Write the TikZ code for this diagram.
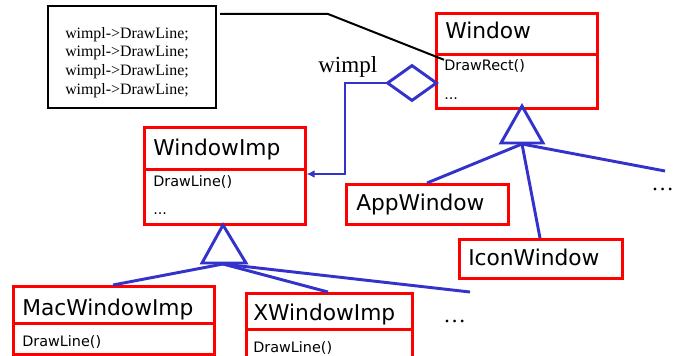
\documentclass[tikz,border=0pt]{standalone}
\usepackage{fontspec}
\setmainfont{Liberation Serif}
\newfontfamily\clsfont{DejaVu Sans}
\usetikzlibrary{shapes.geometric,arrows.meta}
\definecolor{umlred}{RGB}{255,0,0}
\definecolor{umlblue}{RGB}{51,51,204}
\tikzset{
  redbox/.style={draw=umlred, line width=2pt, rectangle, inner sep=0pt, anchor=north west},
  notebox/.style={draw=black, line width=1.7pt, rectangle, inner sep=0pt, anchor=north west},
  title/.style={anchor=base west, inner sep=0pt, font=\clsfont\fontsize{16.3pt}{18pt}\selectfont},
  meth/.style={anchor=base west, inner sep=0pt, font=\clsfont\fontsize{10.8pt}{12pt}\selectfont},
  bluel/.style={draw=umlblue, line width=2.2pt},
  assoc/.style={bluel, -{Latex[length=6pt,width=6pt]}},
  dots/.style={anchor=base west, inner sep=0pt, font=\fontsize{17pt}{20pt}\selectfont},
}
\begin{document}
\begin{tikzpicture}[x=0.75pt, y=-0.75pt]
\clip (0,0) rectangle (673,356);
\fill[white] (0,0) rectangle (673,356);

% note
\node[notebox, minimum width=168*0.75pt, minimum height=102*0.75pt] (note) at (47,5) {};
\node[anchor=north west, inner sep=0pt, align=left, font=\fontsize{11.9pt}{14pt}\selectfont] (notetext) at (65,27)
  {wimpl->DrawLine;\\wimpl->DrawLine;\\wimpl->DrawLine;\\wimpl->DrawLine;};

% Window
\node[redbox, minimum width=161*0.75pt, minimum height=41*0.75pt] (wt) at (435,12) {};
\node[redbox, minimum width=161*0.75pt, minimum height=54*0.75pt] (wb) at (435,53) {};
\node[title] (wtx) at (445,39) {Window};
\node[meth] (wm1) at (444,71) {DrawRect()};
\node[meth] (wm2) at (444,100) {...};

% WindowImp
\node[redbox, minimum width=161*0.75pt, minimum height=42*0.75pt] (it) at (143,126) {};
\node[redbox, minimum width=161*0.75pt, minimum height=55*0.75pt] (ib) at (143,168) {};
\node[title] (itx) at (153,155) {WindowImp};
\node[meth] (im1) at (153,186) {DrawLine()};
\node[meth] (im2) at (153,214) {...};

% AppWindow / IconWindow
\node[redbox, minimum width=162*0.75pt, minimum height=40*0.75pt] (app) at (345,183) {};
\node[title] (apptx) at (356,210) {AppWindow};
\node[redbox, minimum width=163*0.75pt, minimum height=39*0.75pt] (icon) at (458,238) {};
\node[title] (icontx) at (468,265) {IconWindow};

% MacWindowImp
\node[redbox, minimum width=201*0.75pt, minimum height=37*0.75pt] (mt) at (12,285) {};
\node[redbox, minimum width=201*0.75pt, minimum height=31*0.75pt] (mb) at (12,322) {};
\node[title] (mtx) at (22,315) {MacWindowImp};
\node[meth] (mm1) at (22,346) {DrawLine()};

% XWindowImp
\node[redbox, minimum width=166*0.75pt, minimum height=36*0.75pt] (xt) at (245,292) {};
\node[redbox, minimum width=166*0.75pt, minimum height=50*0.75pt] (xb) at (245,328) {};
\node[title] (xtx) at (253,320) {XWindowImp};
\node[meth] (xm1) at (253,352) {DrawLine()};

% dots
\node[dots] (dotsA) at (651,190) {\ldots};
\node[dots] (dotsB) at (443,322) {\ldots};

% note connector
\coordinate (nstart) at (220,14);
\coordinate (nbend) at (328,14);
\draw[line width=1.5pt] (nstart) -- (nbend) -- (wm1.north west);

% aggregation
\node[diamond, draw=umlblue, line width=2.2pt, fill=white, minimum width=50*0.75pt, minimum height=36*0.75pt, inner sep=0pt] (dia) at (412,83) {};
\node[anchor=base west, inner sep=0pt, font=\fontsize{17.3pt}{20pt}\selectfont] (wimpl) at (318,73) {wimpl};
\coordinate (abend) at (345,174);
\draw[assoc] (dia.west) -| (abend) -- (ib.east |- abend);

% inheritance Window
\coordinate (t1a) at (522,106);
\coordinate (t1l) at (501,143);
\coordinate (t1r) at (543,143);
\coordinate (t1b) at (522,144);
\draw[bluel, line join=miter] (t1a) -- (t1l) -- (t1r) -- cycle;
\coordinate (app top) at (427,183);
\coordinate (icon top) at (540,238);
\coordinate (more1) at (665,171);
\draw[bluel] (t1b) -- (app top);
\draw[bluel] (t1b) -- (icon top);
\draw[bluel] (t1b) -- (more1);

% inheritance WindowImp
\coordinate (t2a) at (223,225);
\coordinate (t2l) at (202,263);
\coordinate (t2r) at (246,263);
\coordinate (t2b) at (223,264);
\draw[bluel, line join=miter] (t2a) -- (t2l) -- (t2r) -- cycle;
\coordinate (mac top) at (113,285);
\coordinate (x top) at (328,292);
\coordinate (more2) at (470,292);
\draw[bluel] (t2b) -- (mac top);
\draw[bluel] (t2b) -- (x top);
\draw[bluel] (t2b) -- (more2);
\end{tikzpicture}
\end{document}
